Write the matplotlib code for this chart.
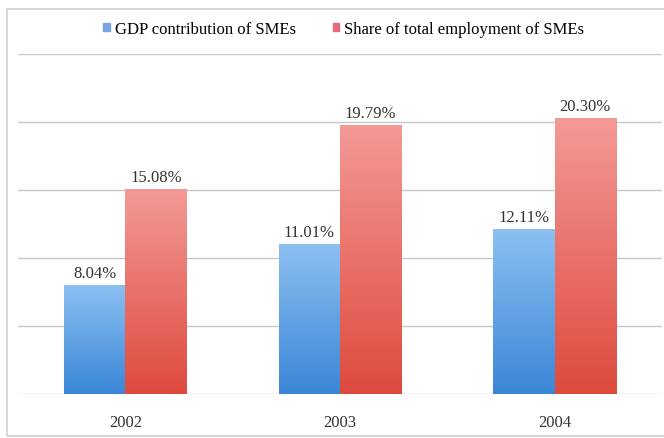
import matplotlib
matplotlib.use("Agg")
import matplotlib.pyplot as plt
import numpy as np
from matplotlib.colors import LinearSegmentedColormap
from matplotlib.patches import Rectangle, Patch

years = ["2002", "2003", "2004"]
gdp = [8.04, 11.01, 12.11]
employment = [15.08, 19.79, 20.30]
series_names = ["GDP contribution of SMEs", "Share of total employment of SMEs"]

plt.rcParams['font.family'] = ['Liberation Serif', 'DejaVu Serif']

fig = plt.figure(figsize=(6.64, 4.39), dpi=100)
fig.patch.set_facecolor("white")
ax = fig.add_axes([0.027, 0.1, 0.97, 0.7745])

x = np.arange(len(years))
w = 0.285
blue_cmap = LinearSegmentedColormap.from_list("b", ["#3a86d6", "#8cc0f2"])
red_cmap = LinearSegmentedColormap.from_list("r", ["#de4a3e", "#f39a96"])

b1 = ax.bar(x - w/2, gdp, w, color="#5b9bd5", label=series_names[0], zorder=3)
b2 = ax.bar(x + w/2, employment, w, color="#ec6b63", label=series_names[1], zorder=3)

grad = np.linspace(0, 1, 256).reshape(-1, 1)
for bars, cmap in ((b1, blue_cmap), (b2, red_cmap)):
    for p in bars:
        x0, y0 = p.get_x(), p.get_y()
        pw, ph = p.get_width(), p.get_height()
        im = ax.imshow(grad, cmap=cmap, origin="lower", aspect="auto",
                       extent=[x0, x0 + pw, y0, y0 + ph], zorder=3.5)
        im.set_clip_path(p)

for bars, vals in ((b1, gdp), (b2, employment)):
    for p, v in zip(bars, vals):
        ax.text(p.get_x() + p.get_width()/2, v + 0.3, f"{v:.2f}%",
                ha="center", va="bottom", fontsize=12, color="#333333", zorder=5)

ax.set_xlim(-0.5, 2.5)
ax.set_ylim(0, 25)
ax.set_yticks(np.arange(0, 26, 5))
ax.yaxis.grid(True, color="#c8c8c8", linewidth=1.0, zorder=0)
ax.set_axisbelow(True)
ax.tick_params(axis="y", left=False, labelleft=False)
ax.set_xticks(x)
ax.set_xticklabels(years, fontsize=12, color="#333333")
ax.tick_params(axis="x", length=0, pad=14)
for s in ax.spines.values():
    s.set_visible(False)

handles = [Patch(color="#7aa4e0"), Patch(color="#e46a7c")]
fig.legend(handles, series_names, loc="center", bbox_to_anchor=(0.518, 0.932),
           ncol=2, frameon=False, fontsize=12, handlelength=0.4, handleheight=0.4,
           columnspacing=2.2, handletextpad=0.3)

fig.add_artist(Rectangle((0.011, 0.004), 1.2, 0.973, transform=fig.transFigure,
                         fill=False, edgecolor="#d0d0d0", linewidth=1.2))

fig.savefig("out.png", dpi=100)
